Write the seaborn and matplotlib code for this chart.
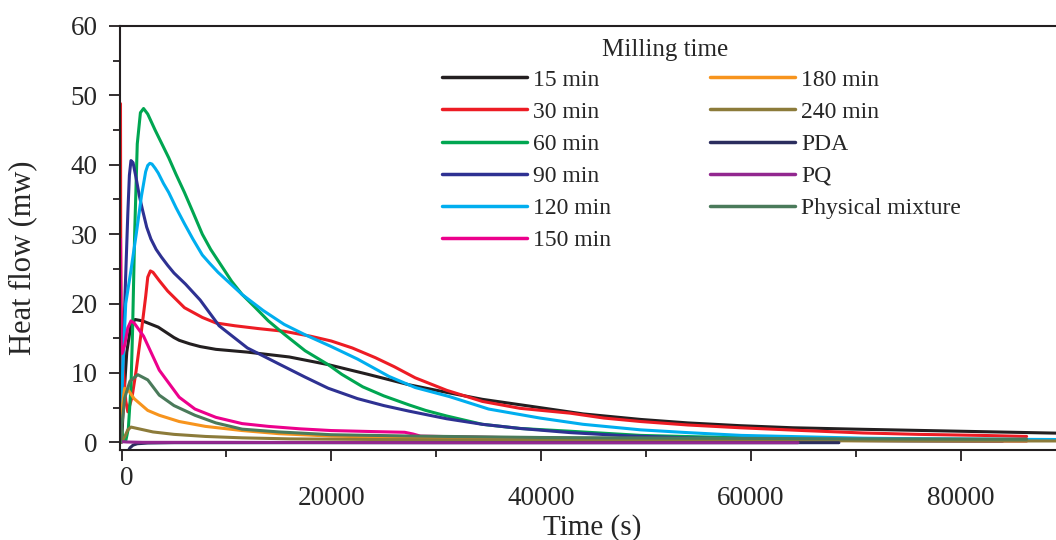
import numpy as np
import pandas as pd
import seaborn as sns
import matplotlib.pyplot as plt
from matplotlib.ticker import MultipleLocator
from matplotlib.transforms import ScaledTranslation

# heat flow curves, time in s, heat flow in mW
t_15 = [0, 200, 500, 900, 1300, 2000, 3000, 3500, 4500, 5000, 5500, 6500, 7500, 9000, 12000, 16000,
        19700, 23500, 27400, 31000, 34400, 39000, 44000, 49500, 54000, 59000, 64000, 70000, 75000,
        80000, 85000, 90000]
hf_15 = [0, 6, 13, 17.0, 17.7, 17.5, 16.9, 16.6, 15.6, 15.1, 14.7, 14.2, 13.8, 13.4, 13.0, 12.3,
         11.2, 9.8, 8.3, 7.2, 6.2, 5.2, 4.1, 3.3, 2.8, 2.4, 2.1, 1.9, 1.75,
         1.6, 1.45, 1.3]

t_30 = [-100, -80, -40, 50, 200, 400, 600, 1000, 1400, 1900, 2300, 2500, 2750, 3000, 3600, 4400,
        6000, 7700, 9000, 10800, 13000, 15500, 18000, 20000, 22000, 24200, 26000, 28000, 31000,
        34400, 38000, 42800, 46000, 49500, 54000, 59000, 65000, 70700, 76000, 82000, 86300]
hf_30 = [48.8, 30, 20, 15, 10, 6, 4.4, 6.5, 10.4, 16.1, 21, 23.8, 24.7, 24.5, 23.3, 21.8,
         19.4, 18.0, 17.2, 16.8, 16.4, 16.0, 15.3, 14.6, 13.6, 12.2, 10.9, 9.3, 7.5,
         5.9, 4.9, 4.2, 3.5, 3.0, 2.5, 2.1, 1.7, 1.35, 1.15, 1.0, 0.85]

t_60 = [-100, 0, 150, 400, 650, 900, 1050, 1250, 1500, 1800, 2100, 2500, 3200, 4500, 5200, 6000,
        6800, 7700, 8500, 9500, 10500, 11500, 12700, 14000, 15500, 17500, 19700, 21000, 23000,
        25000, 27400, 29000, 31000, 34400, 38000, 42800, 49500, 55000, 62000, 70000, 78000, 86300]
hf_60 = [5.5, 2, 0.3, 0.2, 2, 8, 16, 30, 43, 47.5, 48.1, 47.3, 45, 41, 38.6, 36,
         33.2, 30, 27.8, 25.5, 23.2, 21.3, 19.5, 17.5, 15.6, 13.2, 11.2, 9.8, 8.0,
         6.7, 5.4, 4.6, 3.8, 2.6, 2.0, 1.6, 1.0, 0.8, 0.6, 0.5, 0.45, 0.4]

t_90 = [-100, 100, 350, 600, 750, 900, 1100, 1400, 1700, 2000, 2400, 2800, 3300, 3800, 4400, 5000,
        6100, 7500, 9300, 12000, 15000, 17500, 19700, 22500, 25000, 27400, 31000, 34400, 38000,
        42800, 48000, 54000, 60000, 67000, 75000, 84000]
hf_90 = [0, 10, 22, 33, 38.5, 40.6, 40.3, 38, 35.5, 33.5, 31, 29.3, 27.8, 26.7, 25.5, 24.4,
         22.8, 20.5, 16.8, 13.6, 11.3, 9.4, 7.8, 6.3, 5.3, 4.5, 3.4, 2.6, 2.0,
         1.4, 0.95, 0.65, 0.45, 0.3, 0.2, 0.15]

t_120 = [-100, 100, 400, 900, 1400, 1900, 2300, 2500, 2700, 2900, 3200, 3500, 4000, 4500, 5200,
         6000, 6800, 7700, 8400, 9200, 11500, 13500, 15500, 17500, 20000, 22500, 25500, 28000,
         31250, 35000, 39900, 44000, 49500, 54000, 59100, 65000, 70700, 77000, 83000, 90000]
hf_120 = [0, 10, 20, 24.8, 30, 35.5, 39, 39.9, 40.2, 40.1, 39.5, 38.8, 37.3, 36, 33.8,
          31.5, 29.3, 27, 25.8, 24.5, 21.3, 19, 17, 15.5, 13.8, 12.0, 9.5, 7.9,
          6.6, 4.8, 3.5, 2.6, 1.8, 1.4, 1.0, 0.8, 0.6, 0.5, 0.45, 0.4]

t_150 = [-100, -80, -40, 50, 300, 600, 900, 1200, 2100, 3600, 5500, 7000, 9000, 11500, 14000,
         17000, 20000, 24000, 27000, 27800, 28500, 32000, 40000, 50000, 60000, 70000, 80000, 86300]
hf_150 = [29.3, 22, 14, 12.8, 14, 16.5, 17.5, 17.2, 15.3, 10.4, 6.5, 4.8, 3.6, 2.7, 2.3,
          1.95, 1.7, 1.55, 1.45, 1.2, 0.9, 0.8, 0.6, 0.45, 0.35, 0.3, 0.25, 0.2]

t_180 = [-100, 100, 300, 700, 1200, 2500, 3600, 5500, 8000, 11500, 15000, 20000, 30000, 40000,
         50000, 60000, 70000, 80000, 86300]
hf_180 = [0, 5.5, 7.8, 7.4, 6.3, 4.6, 3.9, 3.0, 2.3, 1.7, 1.25, 0.9, 0.6, 0.45,
          0.35, 0.3, 0.25, 0.22, 0.2]

t_240 = [-50, 300, 600, 900, 1500, 3000, 5000, 8000, 11500, 16000, 25000, 40000, 60000, 80000, 90000]
hf_240 = [0, 0.8, 1.8, 2.2, 2.0, 1.5, 1.15, 0.85, 0.65, 0.5, 0.4, 0.3, 0.25, 0.2, 0.2]

t_pda = [500, 800, 1100, 1500, 2500, 5000, 20000, 40000, 60000, 68400]
hf_pda = [-1.6, -0.8, -0.4, -0.2, -0.1, -0.05, -0.05, -0.05, -0.05, -0.05]

t_pq = [-100, 0, 500, 2000, 10000, 30000, 50000, 64500]
hf_pq = [0.2, 0.1, 0.05, 0.0, 0.0, -0.05, -0.05, -0.05]

t_pm = [-100, 0, 300, 800, 1550, 2500, 3600, 5000, 7000, 9000, 11500, 15000, 20000, 28000, 40000,
        55000, 70000, 86300]
hf_pm = [0, 2, 6.4, 8.8, 9.75, 9.0, 6.8, 5.3, 3.9, 2.8, 1.9, 1.5, 1.1, 0.9, 0.7,
         0.6, 0.5, 0.45]

labels = ["15 min", "30 min", "60 min", "90 min", "120 min", "150 min",
          "180 min", "240 min", "PDA", "PQ", "Physical mixture"]
colors = ["#231f20", "#ed1c24", "#00a651", "#2e3192", "#00aeef", "#ec008c",
          "#f7941d", "#8c7b3a", "#2b2d5e", "#92278f", "#4a7a5a"]
times = [t_15, t_30, t_60, t_90, t_120, t_150, t_180, t_240, t_pda, t_pq, t_pm]
flows = [hf_15, hf_30, hf_60, hf_90, hf_120, hf_150, hf_180, hf_240, hf_pda, hf_pq, hf_pm]

df = pd.concat([pd.DataFrame({"time": t, "heat": h, "sample": name})
                for name, t, h in zip(labels, times, flows)], ignore_index=True)

sns.set_style("ticks")
plt.rcParams['font.family'] = ['Liberation Serif', 'DejaVu Serif']

fig, ax = plt.subplots(figsize=(10.56, 5.4), dpi=100)
fig.subplots_adjust(left=0.1136, right=1.0, bottom=0.1667, top=0.952)

sns.lineplot(data=df, x="time", y="heat", hue="sample", hue_order=labels,
             palette=dict(zip(labels, colors)), estimator=None, sort=False,
             linewidth=2.2, ax=ax)

ax.set_xlim(-150, 89100)
ax.set_ylim(-1.1, 60)
ax.set_xticks([0, 20000, 40000, 60000, 80000])
ax.xaxis.set_minor_locator(MultipleLocator(10000))
ax.set_yticks(np.arange(0, 61, 10))
ax.yaxis.set_minor_locator(MultipleLocator(5))

for s in ["left", "bottom", "top"]:
    ax.spines[s].set_linewidth(1.5)
    ax.spines[s].set_color("#231f20")
ax.spines["right"].set_visible(False)
ax.tick_params(which="major", length=8, width=1.3, color="#231f20", labelsize=19.5)
ax.tick_params(which="minor", length=5, width=1.3, color="#231f20")
ax.tick_params(axis="x", which="major", pad=18)
ax.tick_params(axis="y", which="major", pad=8)

# the "0" under the x axis sits higher and a bit to the right in the source
zero_lbl = ax.xaxis.get_major_ticks()[0].label1
zero_lbl.set_transform(zero_lbl.get_transform() + ScaledTranslation(0.05, 0.20, fig.dpi_scale_trans))

ax.set_xlabel("Time (s)", fontsize=21)
ax.set_ylabel("Heat flow (mw)", fontsize=22)
ax.xaxis.set_label_coords(0.505, -0.151)
ax.yaxis.set_label_coords(-0.088, 0.453)

handles, _ = ax.get_legend_handles_labels()
leg = ax.legend(handles, labels, ncol=2, frameon=False, fontsize=17,
                loc="upper left", bbox_to_anchor=(442 / 1056, 1 - 69 / 540),
                bbox_transform=fig.transFigure, borderaxespad=0, borderpad=0,
                handlelength=3.6, handletextpad=0.25, columnspacing=4.2,
                labelspacing=0.45)
for line in leg.get_lines():
    line.set_linewidth(2.5)
fig.text(665 / 1056, 1 - 50 / 540, "Milling time", fontsize=18, ha="center", va="center")

fig.savefig("out.png", dpi=100)
